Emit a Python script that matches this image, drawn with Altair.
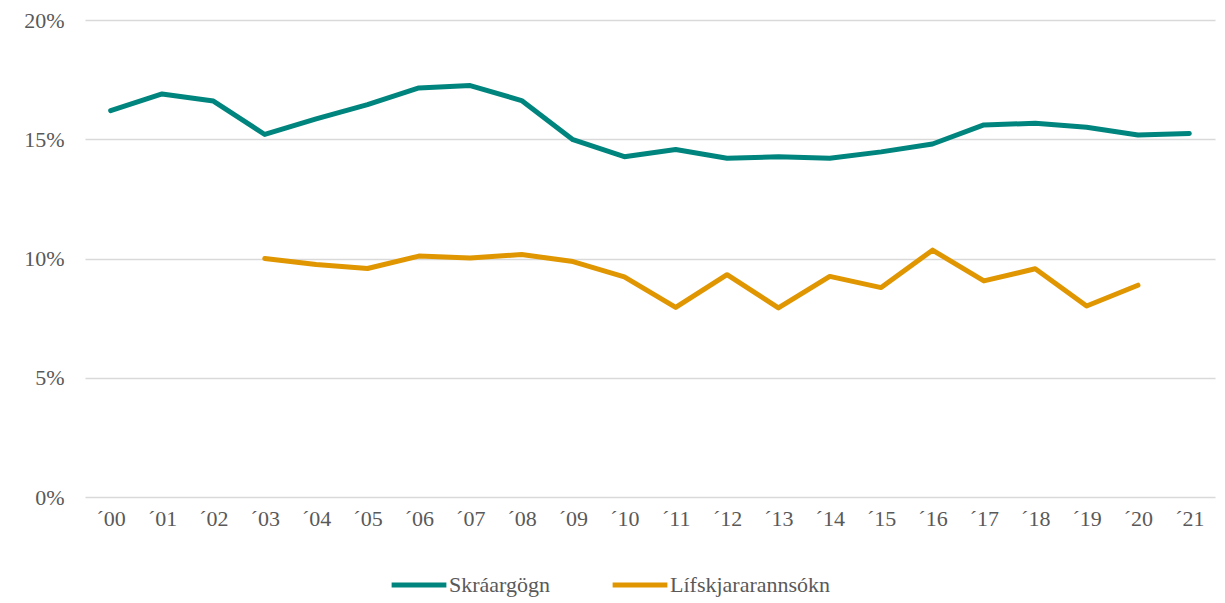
import altair as alt
import pandas as pd

years = ["´00", "´01", "´02", "´03", "´04", "´05", "´06", "´07", "´08", "´09", "´10",
         "´11", "´12", "´13", "´14", "´15", "´16", "´17", "´18", "´19", "´20", "´21"]
skraargogn = [16.2, 16.9, 16.6, 15.2, 15.85, 16.45, 17.15, 17.25, 16.62, 14.98, 14.27,
              14.57, 14.2, 14.27, 14.2, 14.47, 14.8, 15.6, 15.67, 15.5, 15.18, 15.24]
lifskjara = [None, None, None, 10.0, 9.75, 9.58, 10.1, 10.02, 10.17, 9.87, 9.23,
             7.95, 9.32, 7.93, 9.25, 8.78, 10.35, 9.06, 9.57, 8.01, 8.88, None]
series_names = ["Skráargögn", "Lífskjararannsókn"]
colors = ["#00857e", "#e09600"]

rows = []
for name, vals in zip(series_names, [skraargogn, lifskjara]):
    for y, v in zip(years, vals):
        if v is not None:
            rows.append({"year": y, "value": v / 100, "series": name})
df = pd.DataFrame(rows)

font = "Liberation Serif"
gray = "#595959"

chart = alt.Chart(df).mark_line(strokeWidth=5, strokeCap="round", strokeJoin="round").encode(
    x=alt.X("year:N", sort=years, scale=alt.Scale(domain=years, paddingInner=0, paddingOuter=0.5),
            axis=alt.Axis(title=None, labelAngle=0, ticks=False, domain=False, grid=False,
                          labelFont=font, labelFontSize=22, labelColor=gray, labelPadding=11)),
    y=alt.Y("value:Q", scale=alt.Scale(domain=[0, 0.2], nice=False),
            axis=alt.Axis(title=None, values=[0, 0.05, 0.1, 0.15, 0.2], format=".0%",
                          ticks=False, domain=False, gridColor="#d9d9d9", gridWidth=1.5,
                          labelFont=font, labelFontSize=22, labelColor=gray, labelPadding=21)),
    color=alt.Color("series:N", scale=alt.Scale(domain=series_names, range=colors),
                    legend=alt.Legend(title=None, orient="none", direction="horizontal",
                                      legendX=304, legendY=535,
                                      symbolType="stroke", symbolSize=3000, symbolStrokeWidth=5,
                                      labelFont=font, labelFontSize=22, labelColor=gray,
                                      labelLimit=400, labelOffset=0, columnPadding=51)),
).properties(width=1130, height=477, autosize="none",
             padding={"left": 77, "top": 12, "right": 2, "bottom": 100}
).configure(background="white").configure_view(stroke=None)

chart.save("out.html", embed_options={"renderer": "svg", "actions": False})
